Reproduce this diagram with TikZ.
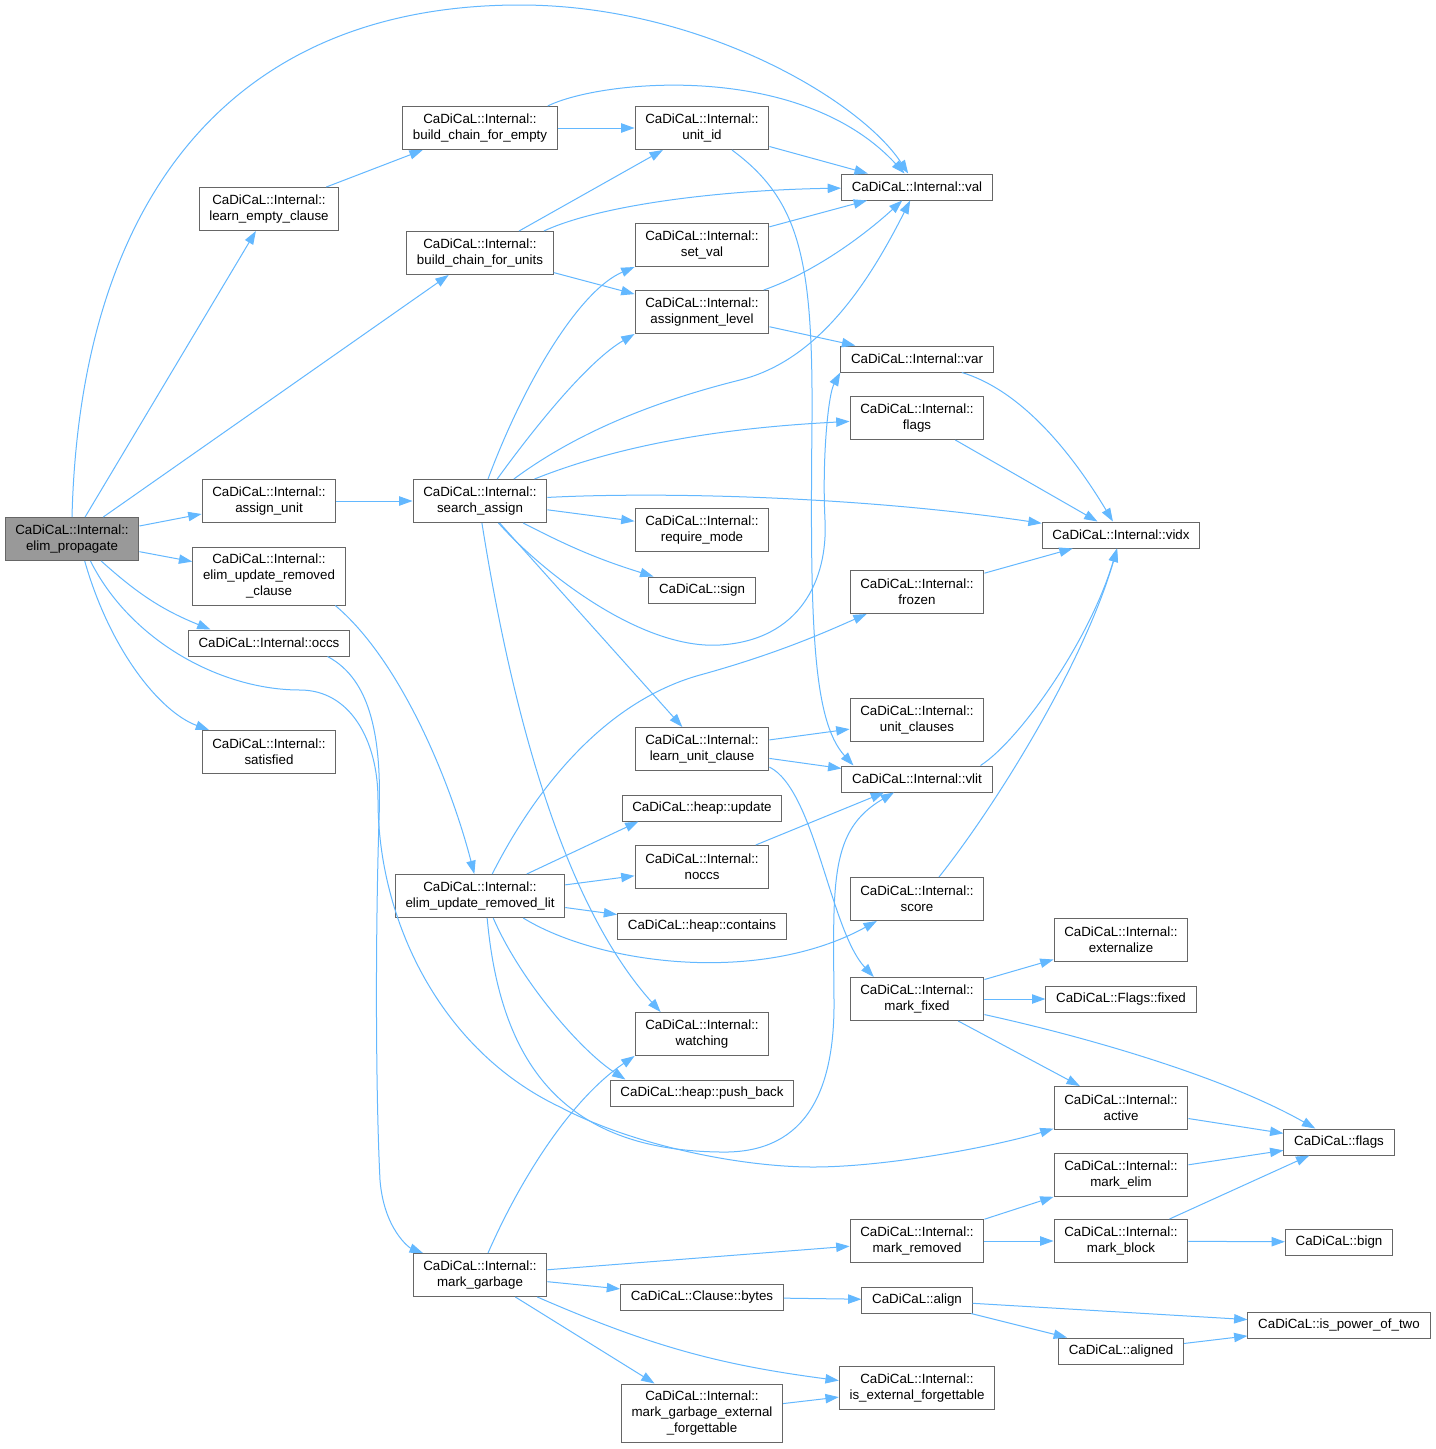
\documentclass[tikz,border=0pt]{standalone}
\usepackage{fontspec}
\setmainfont{Liberation Sans}
\usepackage{tikz}
\usetikzlibrary{arrows.meta}
\definecolor{edgeblue}{HTML}{63B8FF}
\definecolor{boxline}{HTML}{666666}
\definecolor{rootgray}{HTML}{999999}

\begin{document}
\begin{tikzpicture}[x=0.75pt, y=-0.75pt, font=\fontsize{10}{12}\selectfont,
  >={Triangle[length=10pt,width=7pt]},
  nd/.style={draw=boxline, fill=white, line width=0.75pt, align=center,
             inner xsep=7.7pt, inner ysep=2pt, minimum height=19.5pt},
  ndII/.style={nd, minimum height=32.25pt},
  ndIII/.style={nd, minimum height=43.5pt},
  root/.style={ndII, fill=rootgray},
  ed/.style={->, draw=edgeblue, line width=0.75pt}]
\fill[white] (0,0) rectangle (1435,1449);
\node[root] (elimprop) at (72,539) {CaDiCaL::Internal::\\elim\_propagate};
\foreach \n/\x/\y/\lb in {%
    learnempty/269/209/learn\_empty\_clause,
    bcempty/480/128/build\_chain\_for\_empty,
    bcunits/480/253/build\_chain\_for\_units,
    unitid/702/128/unit\_id,
    setval/702/245/set\_val,
    assignlevel/702/312/assignment\_level,
    iflags/917/418/flags,
    assignunit/269/501/assign\_unit,
    searchassign/480/501/search\_assign,
    requiremode/702/530/require\_mode,
    frozen/917/592/frozen,
    satisfied/269/752/satisfied,
    unitclauses/917/720/unit\_clauses,
    learnunit/702/749/learn\_unit\_clause,
    noccs/702/867/noccs,
    elimupdlit/480/896/elim\_update\_removed\_lit,
    score/917/899/score,
    externalize/1121/940/externalize,
    markfixed/917/999/mark\_fixed,
    watching/702/1034/watching,
    active/1121/1108/active,
    markelim/1121/1175/mark\_elim,
    markremoved/917/1241/mark\_removed,
    markblock/1121/1241/mark\_block,
    markgarbage/480/1275/mark\_garbage,
    isextforg/917/1388/is\_external\_forgettable}{
  \node[ndII] (\n) at (\x,\y) {CaDiCaL::Internal::\\\lb};
}
\foreach \n/\x/\y/\lb in {%
    val/917/187/CaDiCaL::Internal::val,
    var/917/359/CaDiCaL::Internal::var,
    vidx/1121/535/CaDiCaL::Internal::vidx,
    sign/702/590/CaDiCaL::sign,
    occs/269/643/CaDiCaL::Internal::occs,
    vlit/917/779/CaDiCaL::Internal::vlit,
    heapupdate/702/808/CaDiCaL::heap::update,
    heapcontains/702/926/CaDiCaL::heap::contains,
    flagsfixed/1121/999/CaDiCaL::Flags::fixed,
    pushback/702/1093/CaDiCaL::heap::push\_back,
    flags/1339/1142/CaDiCaL::flags,
    bign/1339/1242/CaDiCaL::bign,
    bytes/702/1297/CaDiCaL::Clause::bytes,
    align/917/1300/CaDiCaL::align,
    pow2/1339/1325/CaDiCaL::is\_power\_of\_two,
    aligned/1121/1351/CaDiCaL::aligned}{
  \node[nd] (\n) at (\x,\y) {\lb};
}
\node[ndIII] (elimupdclause) at (269,576) {CaDiCaL::Internal::\\elim\_update\_removed\\\_clause};
\node[ndIII] (markgef) at (702,1413) {CaDiCaL::Internal::\\mark\_garbage\_external\\\_forgettable};

\draw[ed] (elimprop.north) .. controls (80,200) and (230,5) .. (520,5)
  .. controls (700,5) and (860,100) .. (val);
\draw[ed] (elimprop) -- (learnempty);
\draw[ed] (elimprop) -- (bcunits);
\draw[ed] (elimprop) -- (assignunit);
\draw[ed] (elimprop) -- (elimupdclause);
\draw[ed] (elimprop.-37) to[bend right=10] (occs.167);
\draw[ed] (elimprop.-60) .. controls (110,650) and (160,712) .. (satisfied);
\draw[ed] (elimprop.-50) .. controls (130,640) and (220,690) .. (300,690)
  .. controls (350,690) and (378,740) .. (378,800)
  .. controls (378,920) and (440,1050) .. (560,1107)
  .. controls (632,1145) and (740,1167) .. (813,1167)
  .. controls (890,1167) and (1000,1145) .. (active);
\draw[ed] (occs.-13) .. controls (372,680) and (382,740) .. (379,820)
  .. controls (375,950) and (376,1100) .. (380,1180)
  .. controls (384,1230) and (410,1248) .. (markgarbage);
\draw[ed] (elimupdclause.-24) .. controls (400,660) and (450,780) .. (elimupdlit);
\draw[ed] (learnempty) -- (bcempty);
\draw[ed] (bcempty) -- (unitid);
\draw[ed] (bcempty.18) .. controls (600,80) and (800,60) .. (val);
\draw[ed] (bcunits) -- (unitid);
\draw[ed] (bcunits.19) .. controls (600,205) and (720,190) .. (val);
\draw[ed] (bcunits) -- (assignlevel);
\draw[ed] (unitid) -- (val);
\draw[ed] (unitid) .. controls (800,200) and (813,260) .. (812,420)
  .. controls (810,620) and (812,720) .. (vlit.168);
\draw[ed] (setval) -- (val);
\draw[ed] (assignlevel) .. controls (820,270) and (870,230) .. (val);
\draw[ed] (assignlevel) -- (var);
\draw[ed] (var) .. controls (1020,390) and (1070,450) .. (vidx);
\draw[ed] (iflags) -- (vidx);
\draw[ed] (frozen) -- (vidx);
\draw[ed] (vlit.12) .. controls (1020,740) and (1090,640) .. (vidx);
\draw[ed] (score.45) .. controls (1000,800) and (1085,660) .. (vidx);
\draw[ed] (assignunit) -- (searchassign);
\draw[ed] (searchassign.70) .. controls (525,380) and (580,290) .. (setval.south west);
\draw[ed] (searchassign.52) .. controls (540,420) and (590,360) .. (assignlevel.south west);
\draw[ed] (searchassign.33) .. controls (580,430) and (660,400) .. (740,380)
  .. controls (820,360) and (870,280) .. (val);
\draw[ed] (searchassign.22) .. controls (620,445) and (720,428) .. (iflags);
\draw[ed] (searchassign) .. controls (650,492) and (850,495) .. (vidx);
\draw[ed] (searchassign) -- (requiremode);
\draw[ed] (searchassign.-27) to[bend right=5] (sign);
\draw[ed] (searchassign.-50) .. controls (540,570) and (640,650) .. (720,645)
  .. controls (800,640) and (828,580) .. (825,520)
  .. controls (822,460) and (828,395) .. (var.south west);
\draw[ed] (searchassign) -- (learnunit);
\draw[ed] (searchassign.-85) .. controls (510,700) and (560,900) .. (watching.152);
\draw[ed] (learnunit) -- (unitclauses);
\draw[ed] (learnunit) -- (vlit);
\draw[ed] (learnunit.-15) .. controls (815,790) and (830,930) .. (markfixed.153);
\draw[ed] (noccs) -- (vlit);
\draw[ed] (elimupdlit.61) .. controls (540,780) and (610,700) .. (700,675)
  .. controls (780,653) and (830,630) .. (frozen);
\draw[ed] (elimupdlit) -- (heapupdate.-168);
\draw[ed] (elimupdlit) -- (noccs);
\draw[ed] (elimupdlit) -- (heapcontains);
\draw[ed] (elimupdlit.-27) .. controls (600,965) and (760,985) .. (score);
\draw[ed] (elimupdlit.-59) .. controls (520,980) and (580,1050) .. (pushback.170);
\draw[ed] (elimupdlit.-72) .. controls (500,1060) and (560,1150) .. (720,1152)
  .. controls (800,1154) and (835,1100) .. (834,1000)
  .. controls (833,880) and (830,830) .. (vlit);
\draw[ed] (markfixed) -- (externalize);
\draw[ed] (markfixed) -- (flagsfixed);
\draw[ed] (markfixed.-13) .. controls (1100,1040) and (1230,1080) .. (flags);
\draw[ed] (markfixed) -- (active);
\draw[ed] (active) -- (flags);
\draw[ed] (markelim) -- (flags);
\draw[ed] (markblock) -- (flags);
\draw[ed] (markblock) -- (bign);
\draw[ed] (markremoved) -- (markelim);
\draw[ed] (markremoved) -- (markblock);
\draw[ed] (markgarbage.70) .. controls (520,1180) and (570,1100) .. (watching.south west);
\draw[ed] (markgarbage) -- (markremoved);
\draw[ed] (markgarbage) -- (bytes);
\draw[ed] (markgarbage.-21) to[bend right=8] (isextforg);
\draw[ed] (markgarbage) -- (markgef);
\draw[ed] (bytes) -- (align);
\draw[ed] (align) -- (pow2);
\draw[ed] (align) -- (aligned);
\draw[ed] (aligned) -- (pow2);
\draw[ed] (markgef) -- (isextforg);
\end{tikzpicture}
\end{document}
